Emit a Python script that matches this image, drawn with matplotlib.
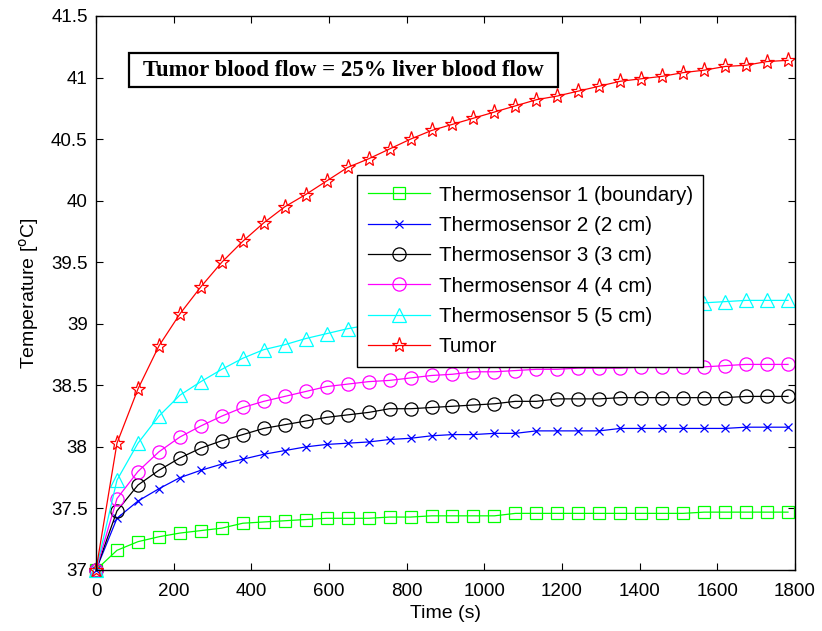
import matplotlib
matplotlib.use("Agg")
import matplotlib.pyplot as plt
from matplotlib.patches import Rectangle

plt.rcParams['font.family'] = ['Liberation Sans', 'DejaVu Sans']
plt.rcParams['mathtext.default'] = 'regular'

# ---- data ----
time_s = [0, 54, 108, 162, 216, 270, 324, 378, 432, 486, 540, 594, 648, 702, 756,
          810, 864, 918, 972, 1026, 1080, 1134, 1188, 1242, 1296, 1350, 1404, 1458,
          1512, 1566, 1620, 1674, 1728, 1782]

sensor1 = [37.00, 37.16, 37.23, 37.27, 37.30, 37.32, 37.34, 37.38, 37.39, 37.40, 37.41,
           37.42, 37.42, 37.42, 37.43, 37.43, 37.44, 37.44, 37.44, 37.44, 37.46, 37.46,
           37.46, 37.46, 37.46, 37.46, 37.46, 37.46, 37.46, 37.47, 37.47, 37.47, 37.47, 37.47]
sensor2 = [37.00, 37.42, 37.56, 37.66, 37.75, 37.81, 37.86, 37.90, 37.94, 37.97, 38.00,
           38.02, 38.03, 38.04, 38.06, 38.07, 38.09, 38.10, 38.10, 38.11, 38.11, 38.13,
           38.13, 38.13, 38.13, 38.15, 38.15, 38.15, 38.15, 38.15, 38.15, 38.16, 38.16, 38.16]
sensor3 = [37.00, 37.48, 37.69, 37.81, 37.91, 37.99, 38.05, 38.10, 38.15, 38.18, 38.21,
           38.24, 38.26, 38.28, 38.31, 38.31, 38.32, 38.33, 38.34, 38.35, 38.37, 38.37,
           38.39, 38.39, 38.39, 38.40, 38.40, 38.40, 38.40, 38.40, 38.40, 38.41, 38.41, 38.41]
sensor4 = [37.00, 37.58, 37.80, 37.96, 38.08, 38.17, 38.25, 38.32, 38.37, 38.41, 38.45,
           38.49, 38.51, 38.53, 38.54, 38.56, 38.58, 38.59, 38.61, 38.61, 38.62, 38.63,
           38.63, 38.64, 38.64, 38.64, 38.65, 38.65, 38.65, 38.65, 38.66, 38.67, 38.67, 38.67]
sensor5 = [37.00, 37.73, 38.03, 38.25, 38.42, 38.53, 38.63, 38.72, 38.79, 38.83, 38.88,
           38.92, 38.96, 38.99, 39.01, 39.03, 39.05, 39.07, 39.09, 39.10, 39.11, 39.12,
           39.13, 39.14, 39.15, 39.15, 39.16, 39.16, 39.17, 39.17, 39.18, 39.19, 39.19, 39.19]
tumor = [37.00, 38.03, 38.47, 38.82, 39.08, 39.30, 39.50, 39.67, 39.82, 39.95, 40.05,
         40.16, 40.27, 40.34, 40.42, 40.50, 40.57, 40.62, 40.67, 40.72, 40.77, 40.82,
         40.85, 40.89, 40.93, 40.97, 40.99, 41.01, 41.04, 41.06, 41.09, 41.10, 41.13, 41.14]

labels = ['Thermosensor 1 (boundary)', 'Thermosensor 2 (2 cm)', 'Thermosensor 3 (3 cm)',
          'Thermosensor 4 (4 cm)', 'Thermosensor 5 (5 cm)', 'Tumor']
xticks = [0, 200, 400, 600, 800, 1000, 1200, 1400, 1600, 1800]
yticks = [37, 37.5, 38, 38.5, 39, 39.5, 40, 40.5, 41, 41.5]
ytick_labels = ['37', '37.5', '38', '38.5', '39', '39.5', '40', '40.5', '41', '41.5']
title_text = 'Tumor blood flow = 25% liver blood flow'

series = [sensor1, sensor2, sensor3, sensor4, sensor5, tumor]
colors = ['#00ff00', '#0000ff', '#000000', '#ff00ff', '#00ffff', '#ff0000']
markers = ['s', 'x', 'o', 'o', '^', '*']
msizes = [9, 5.5, 9.5, 9.5, 10.5, 11]

fig = plt.figure(figsize=(8.22, 6.31), dpi=100)
ax = fig.add_axes([96/822, 1 - 570/631, (795-96)/822, (570-16)/631])

for y, c, m, ms, lab in zip(series, colors, markers, msizes, labels):
    ax.plot(time_s, y, color=c, lw=0.9, marker=m, ms=ms, mfc='none', mec=c,
            mew=0.9, label=lab, clip_on=False)

ax.set_xlim(0, 1800)
ax.set_ylim(37, 41.5)
ax.set_xticks(xticks)
ax.set_yticks(yticks)
ax.set_yticklabels(ytick_labels)
ax.tick_params(direction='in', length=5, width=0.8, labelsize=13.5,
               top=True, right=True, colors='black')
ax.tick_params(axis='x', pad=9)
ax.tick_params(axis='y', pad=6)
for s in ax.spines.values():
    s.set_linewidth(1.0)

ax.set_xlabel('Time (s)', fontsize=14, labelpad=4)
ax.set_ylabel(r'Temperature [$^{\mathrm{o}}$C]', fontsize=14, labelpad=7)

# annotation box
fig.patches.append(Rectangle((129/822, 1 - 87/631), (558-129)/822, (87-53)/631,
                             transform=fig.transFigure, fill=True, facecolor='white',
                             edgecolor='black', lw=1.6, zorder=5))
fig.text((129+558)/2/822, 1 - 70/631, title_text, ha='center', va='center',
         fontsize=16.4, fontweight='bold', family='Liberation Serif', zorder=6)

leg = ax.legend(loc='upper left', bbox_to_anchor=(357/822, 1 - 175/631),
                bbox_transform=fig.transFigure, fontsize=14.8, frameon=True,
                fancybox=False, edgecolor='black', framealpha=1,
                handlelength=3.05, handletextpad=0.4, labelspacing=0.55,
                borderpad=0.52, borderaxespad=0)
leg.get_frame().set_linewidth(1.0)

fig.savefig('out.png', dpi=100)
